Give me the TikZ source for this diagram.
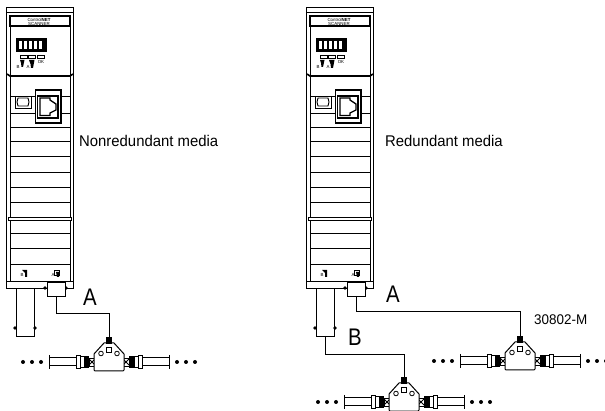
\documentclass[tikz,border=0pt]{standalone}
\usepackage{fontspec}
\setmainfont{Liberation Sans}
\newfontfamily\narrowfont[FakeStretch=0.96]{Liberation Sans}
\newfontfamily\bigfont[FakeStretch=0.85]{Liberation Sans}
\tikzset{
 wire/.style={line width=1pt},
 thin part/.style={line width=.9pt,fill=white},
 heavy/.style={line width=1.6pt},
 label/.style={font=\narrowfont\fontsize{15.5}{17}\selectfont,inner sep=0pt},
 big label/.style={font=\bigfont\fontsize{24}{26}\selectfont,inner sep=0pt},
 tiny label/.style={font=\rmfamily\fontsize{4.4}{5}\selectfont,inner sep=0pt},
 scanner/.pic={
  % stubs below the module
  \draw[thin part] (16,288) rectangle (34,336);
  \fill (15,328) circle (1.8) (35,328) circle (1.8);
  \coordinate (-outB) at (25,336);
  \coordinate (-outA) at (56,296);
  % housing
  \draw[thin part] (6,7) rectangle (73,288);
  \draw[wire] (6,13) -- (73,13);
  \draw[wire] (6,282) -- (73,282);
  \draw[wire] (10,26) -- (10,282) (70,26) -- (70,282);
  \draw[heavy] (10,26) |- (70,16) -- (70,26) -- cycle;
  \draw[heavy] (7,74) -- (10,76) -- (70,76) -- (73,74);
  \fill (45,288) circle (1.8) (66,288) circle (1.8);
  \draw[thin part] (47,282.5) rectangle (65,296);
  \node[tiny label] (-brand) at (39,19.5) {Control\textbf{NET}};
  \node[tiny label] (-model) at (39,24) {SCANNER};
  % display
  \fill (16,38) rectangle (47,52);
  \foreach \digx in {19,24,29,34,39}
   \fill[white] (\digx,41) rectangle ++(3.2,8);
  % status lights
  \foreach \ledx in {20,28,37}
   \draw[line width=.7pt] (\ledx,55) rectangle ++(7,3.5);
  \fill (20,60) -- (24.5,60) -- (23,67) -- (21.5,67) -- (21,63) -- cycle;
  \fill (29,60) -- (34.5,60) -- (33,68) -- (31,68) -- (30.5,64) -- cycle;
  \node[tiny label] (-ledB) at (18,67) {B};
  \node[tiny label] (-ledA) at (28,67) {A};
  \node[tiny label] (-ledOK) at (41,62) {OK};
  % panel lines
  \foreach \liney in {96,113,127,141,156,172,187,202,233,248,264}
   \draw[line width=.9pt] (10,\liney) -- (70,\liney);
  \draw[line width=.9pt,fill=white] (8,217.5) rectangle (71,220.5);
  % port
  \draw[thin part] (15,96) rectangle (31,108);
  \draw[line width=.9pt] (18,98) -- (28,98) to[bend left=25] (28,106) -- (18,106) to[bend left=25] cycle;
  \draw[fill=white,line width=1.2pt] (35.5,90) rectangle (61,123);
  \draw[line width=1.2pt] (37.5,96) rectangle (58,118);
  \draw[line width=1.3pt] (40,98) -- (50,98) -- (50,100) -- (56,104) -- (56,110) -- (50,113) -- (50,115.5) -- (40,115.5) -- cycle;
  % media tags
  \fill (22,270) -- (27,270) -- (27,277) -- (25,277) -- (25,273) -- cycle;
  \draw[line width=.7pt] (54,270) rectangle (59,275);
  \fill (56,272) -- (59,272) -- (59,277) -- (57,277) -- cycle;
  \node[tiny label] (-tagB) at (22,275) {B};
  \node[tiny label] (-tagA) at (53,275) {A};
 },
 tap/.pic={
  % cables
  \foreach \sgn in {-1,1} {
   \draw[wire] (\sgn*33,-4) -- (\sgn*60,-4) (\sgn*33,3.5) -- (\sgn*60,3.5);
   \draw[wire] (\sgn*60,-7) -- (\sgn*60,7);
   \draw[line width=.9pt,fill=white] (\sgn*33,-6.5) rectangle (\sgn*29,6.5);
   \draw[line width=.9pt,fill=white] (\sgn*29,-5.5) rectangle (\sgn*25,5.5);
   \fill (\sgn*25,-6) rectangle (\sgn*20,6);
   \draw[line width=.8pt,fill=white] (\sgn*20,-4) rectangle (\sgn*14,4);
   \draw[line width=.8pt] (\sgn*20,-3) -- (\sgn*14,3) (\sgn*20,3) -- (\sgn*14,-3);
   \fill (\sgn*68,0) circle (2) (\sgn*77,0) circle (2) (\sgn*86,0) circle (2);
  }
  % body
  \draw[wire,fill=white] (-14,9) -- (-15,8) -- (-15,-8) -- (-5,-19) -- (5,-19) -- (15,-8) -- (15,8) -- (14,9) -- cycle;
  \fill (-3,-25) rectangle (3,-18);
  \coordinate (-in) at (0,-25);
  \draw[line width=.8pt] (-2.5,-15) rectangle (2.5,-10);
  \draw[line width=.8pt] (-8,-8.5) circle (2.3) (8,-8.5) circle (2.3);
 }
}
\begin{document}
\begin{tikzpicture}[x=1pt,y=-1pt]
 \useasboundingbox (0,0) rectangle (605,411);
 \pic (scanL) at (0,0) {scanner};
 \pic (scanR) at (300,0) {scanner};
 \pic (tapL) at (109,362) {tap};
 \pic (tapA) at (520,361) {tap};
 \pic (tapB) at (404,402) {tap};
 \coordinate (bendL) at (109,314);
 \coordinate (bendA) at (520,312);
 \coordinate (bendB) at (404,355);
 \draw[wire] (scanL-outA) |- (bendL) -- (tapL-in);
 \draw[wire] (scanR-outA) |- (bendA) -- (tapA-in);
 \draw[wire] (scanR-outB) |- (bendB) -- (tapB-in);
 \node[label,anchor=west] (nonred) at (79,141) {Nonredundant media};
 \node[label,anchor=west] (red) at (385,141) {Redundant media};
 \node[big label] (labA) at (90,297) {A};
 \node[big label] (labAr) at (393,294) {A};
 \node[big label] (labB) at (355,337) {B};
 \node[label,anchor=west,font=\narrowfont\fontsize{14}{16}\selectfont] (partno) at (534,320) {30802-M};
\end{tikzpicture}
\end{document}
